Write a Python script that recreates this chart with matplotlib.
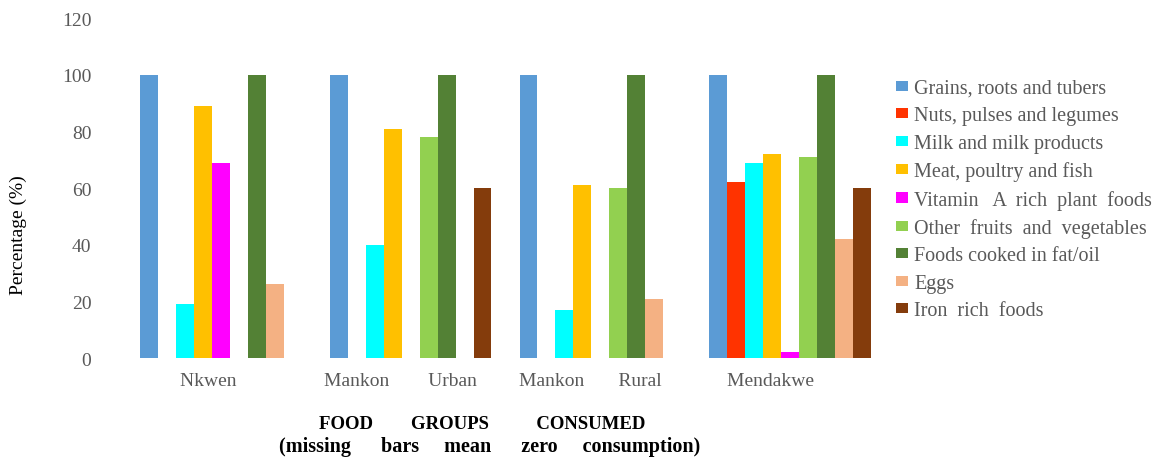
import numpy as np
import matplotlib
matplotlib.use('Agg')
import matplotlib.pyplot as plt

plt.rcParams['font.family'] = ['Liberation Serif', 'DejaVu Serif']

places = ['Nkwen     ', 'Mankon        Urban    ', 'Mankon       Rural    ', 'Mendakwe        ']

food_groups = ['Grains, roots and tubers', 'Nuts, pulses and legumes', 'Milk and milk products',
               'Meat, poultry and fish', 'Vitamin   A  rich  plant  foods', 'Other  fruits  and  vegetables',
               'Foods cooked in fat/oil', 'Eggs', 'Iron  rich  foods']

grains = [100, 100, 100, 100]
nuts = [0, 0, 0, 62]
milk = [19, 40, 17, 69]
meat = [89, 81, 61, 72]
vit_a = [69, 0, 0, 2]
other_fv = [0, 78, 60, 71]
fat_oil = [100, 100, 100, 100]
eggs = [26, 0, 21, 42]
iron = [0, 60, 0, 60]

colors = ['#5B9BD5', '#FF3300', '#00FFFF', '#FFC000', '#FF00FF', '#92D050', '#538135', '#F4B183', '#843C0C']

series = [grains, nuts, milk, meat, vit_a, other_fv, fat_oil, eggs, iron]

fig = plt.figure(figsize=(11.62, 4.6), dpi=100)
ax = fig.add_axes([126 / 1162, 1 - 359 / 460, 759 / 1162, 340 / 460])

x = np.arange(len(places))
w = 0.0947
for j, vals in enumerate(series):
    ax.bar(x + (j - 4) * w, vals, width=w, color=colors[j], label=food_groups[j])

ax.set_xlim(-0.5, 3.5)
ax.set_ylim(0, 120)
ax.set_yticks(range(0, 121, 20))
ax.set_xticks(x)
ax.set_xticklabels(places)
for s in ax.spines.values():
    s.set_visible(False)
ax.tick_params(axis='both', length=0, labelsize=14, labelcolor='#595959')
ax.tick_params(axis='x', pad=10)
ax.tick_params(axis='y', pad=25)

fig.text(18 / 1162, 1 - 235 / 460, 'Percentage (%)', rotation=90, ha='center', va='center', fontsize=14)

# axis title, spaced out like the original
fig.text(482 / 1162, 1 - 425 / 460, 'FOOD        GROUPS          CONSUMED', ha='center', va='center',
         fontsize=13.5, fontweight='bold')
fig.text(490 / 1162, 1 - 447 / 460, '(missing      bars     mean      zero     consumption)', ha='center', va='center',
         fontsize=14.5, fontweight='bold')

leg = ax.legend(loc='upper left', bbox_to_anchor=(896 / 1162, 1 - 80 / 460), bbox_transform=fig.transFigure,
                frameon=False, fontsize=14.5, handlelength=0.6, handleheight=0.4, handletextpad=0.3,
                labelspacing=0.42, borderpad=0, borderaxespad=0)
for t in leg.get_texts():
    t.set_color('#595959')

fig.savefig('out.png', dpi=100)
